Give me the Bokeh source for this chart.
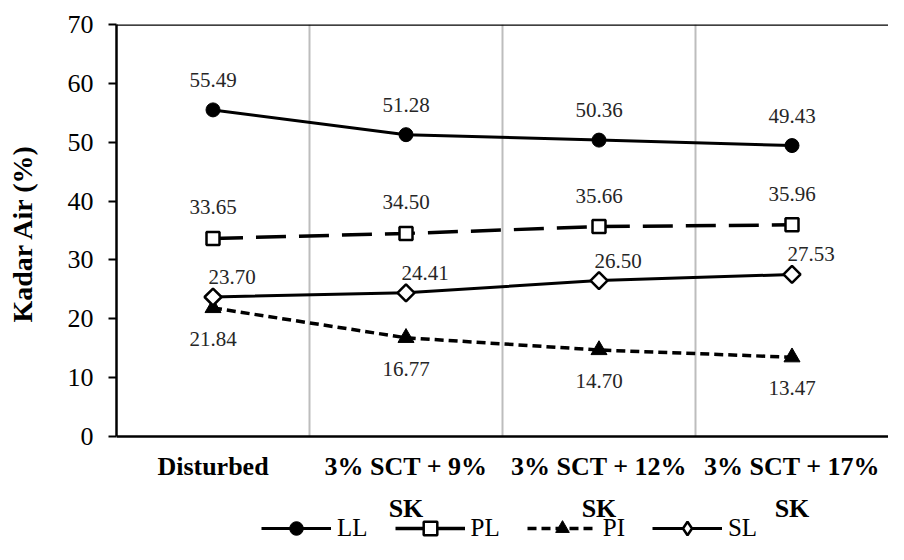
import numpy as np
from bokeh.plotting import figure
from bokeh.models import FixedTicker, Span, Legend, LegendItem, ColumnDataSource, Title, LinearAxis
from bokeh.core.properties import value
from bokeh.embed import file_html
from bokeh.resources import INLINE

categories = ["Disturbed", "3% SCT + 9%\nSK", "3% SCT + 12%\nSK", "3% SCT + 17%\nSK"]
LL = [55.49, 51.28, 50.36, 49.43]
PL = [33.65, 34.50, 35.66, 35.96]
PI = [21.84, 16.77, 14.70, 13.47]
SL = [23.70, 24.41, 26.50, 27.53]
y_ticks = [0, 10, 20, 30, 40, 50, 60, 70]
y_title = "Kadar Air (%)"

xs = [i + 0.5 for i in range(len(categories))]
bounds = [i for i in range(1, len(categories))]
y_lo, y_hi = y_ticks[0], y_ticks[-1]
FONT = "Liberation Serif, serif"

# frame spans down to the bottom of the canvas; the x axis sits at y = 0
p = figure(width=888, height=544, x_range=(0, len(categories)), y_range=(-18.35, y_hi),
           output_backend="svg", toolbar_location=None,
           min_border_left=116, min_border_right=0, min_border_top=24, min_border_bottom=0)
p.outline_line_color = None
p.background_fill_color = "white"
p.border_fill_color = "white"
p.grid.visible = False

# x axis
p.xaxis.fixed_location = 0
p.xaxis.ticker = FixedTicker(ticks=xs)
p.xaxis.major_label_overrides = {x: c for x, c in zip(xs, categories)}
p.xaxis.major_tick_out = 0
p.xaxis.major_tick_in = 0
p.xaxis.minor_tick_out = 0
p.xaxis.minor_tick_in = 0
p.xaxis.axis_line_color = "black"
p.xaxis.axis_line_width = 2.5
p.xaxis.major_label_text_font = FONT
p.xaxis.major_label_text_font_style = "bold"
p.xaxis.major_label_text_font_size = "26px"
p.xaxis.major_label_text_color = "black"
p.xaxis.major_label_text_line_height = 1.42
p.xaxis.major_label_standoff = 16

# y axis
p.yaxis.bounds = (y_lo, y_hi)
p.yaxis.ticker = FixedTicker(ticks=y_ticks)
p.yaxis.major_tick_out = 8
p.yaxis.major_tick_in = 0
p.yaxis.minor_tick_out = 0
p.yaxis.minor_tick_in = 0
p.yaxis.major_tick_line_width = 2
p.yaxis.axis_line_width = 2.5
p.yaxis.major_label_text_font = FONT
p.yaxis.major_label_text_font_size = "26px"
p.yaxis.major_label_text_color = "black"
p.yaxis.major_label_standoff = 15

# invisible spacer axis between the tick labels and the axis title
spacer = LinearAxis(ticker=FixedTicker(ticks=[y_lo]), major_label_overrides={y_lo: ""},
                    major_tick_out=23, major_tick_in=0, minor_tick_out=0, minor_tick_in=0,
                    major_label_standoff=0, axis_line_alpha=0, major_tick_line_alpha=0,
                    major_label_text_alpha=0)
p.add_layout(spacer, "left")

# y axis title, placed along the 0..70 part of the axis
p.add_layout(Title(text=y_title, align="left", offset=222, standoff=8,
                   text_font=FONT, text_font_style="bold", text_font_size="28px",
                   text_color="black"), "left")

# category separators (vertical grid) and top border line
p.segment(x0=bounds, y0=[y_lo] * len(bounds), x1=bounds, y1=[y_hi] * len(bounds),
          line_color="#BDBDBD", line_width=2)
p.add_layout(Span(location=y_hi, dimension="width", line_color="black", line_width=2.5))

# series
r_ll_line = p.line(xs, LL, line_color="black", line_width=3)
r_ll_mk = p.scatter(xs, LL, marker="circle", size=14, fill_color="black", line_color="black")

r_pl_line = p.line(xs, PL, line_color="black", line_width=3.5, line_dash="30 13")
r_pl_mk = p.scatter(xs, PL, marker="square", size=13, fill_color="white", line_color="black", line_width=2.5)

r_pi_line = p.line(xs, PI, line_color="black", line_width=3.5, line_dash="9 5")
r_pi_mk = p.scatter(xs, PI, marker="triangle", size=16, fill_color="black", line_color="black")

r_sl_line = p.line(xs, SL, line_color="black", line_width=3)
r_sl_mk = p.scatter(xs, SL, marker="square", angle=np.pi / 4, size=12,
                    fill_color="white", line_color="black", line_width=2.5)

# legend-only glyphs (not drawn in the plot: NaN data)
r_pl_leg = p.line([np.nan], [np.nan], line_color="black", line_width=3.5)
r_sl_leg = p.scatter([np.nan], [np.nan], marker="diamond", size=12,
                     fill_color="white", line_color="black", line_width=2.5)

# data labels
def labels(vals, dx, dy):
    src = ColumnDataSource(dict(x=xs, y=vals, t=["%.2f" % v for v in vals]))
    p.text(x="x", y="y", text="t", source=src, x_offset=dx, y_offset=dy,
           text_font=value(FONT), text_font_size="21px", text_color="#262626",
           text_align="center", text_baseline="middle")

labels(LL, 0, -30)
labels(PL, 0, -31)
labels(PI, 0, 31)
labels(SL, 19, -20)

legend = Legend(items=[
    LegendItem(label="LL", renderers=[r_ll_line, r_ll_mk]),
    LegendItem(label="PL", renderers=[r_pl_leg, r_pl_mk]),
    LegendItem(label="PI", renderers=[r_pi_line, r_pi_mk]),
    LegendItem(label="SL", renderers=[r_sl_line, r_sl_leg]),
], orientation="horizontal", location=(145, -1))
legend.glyph_width = 70
legend.glyph_height = 34
legend.label_text_font = FONT
legend.label_text_font_size = "25px"
legend.label_text_color = "black"
legend.label_standoff = 6
legend.spacing = 27
legend.padding = 0
legend.margin = 0
legend.border_line_color = None
legend.background_fill_alpha = 0
p.add_layout(legend, "center")

open("out.html", "w").write(file_html(p, INLINE))
